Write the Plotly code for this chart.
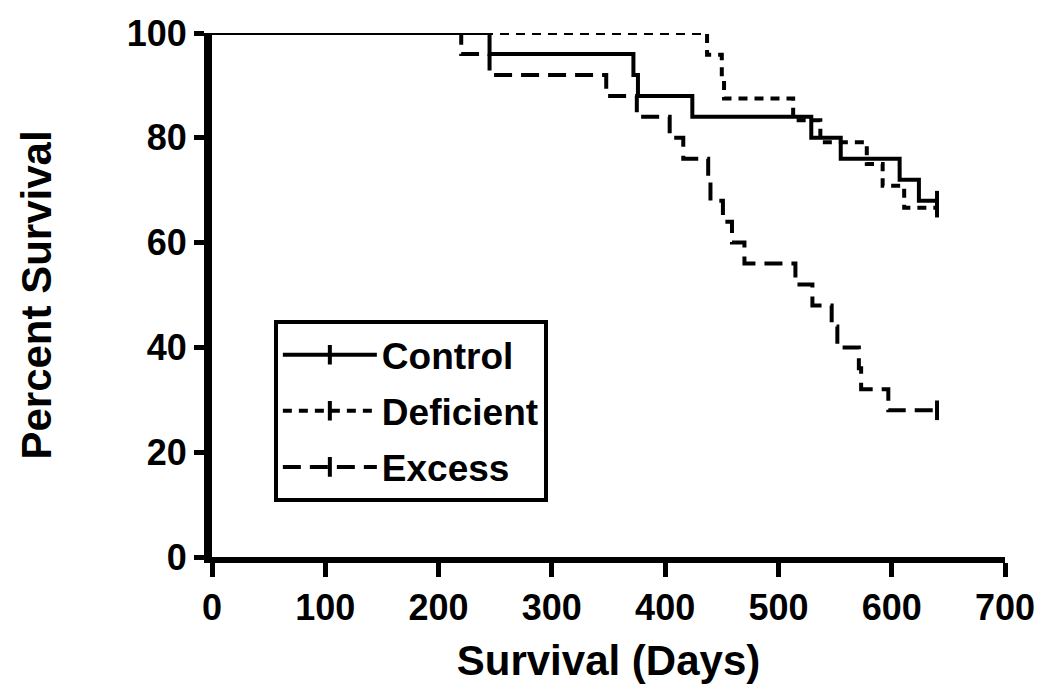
import plotly.graph_objects as go

# Kaplan-Meier step data (days, percent survival)
control_days = [0, 245, 372, 376, 424, 529, 555, 607, 624, 640]
control_pct = [100, 96, 92, 88, 84, 80, 76, 72, 68, 68]

deficient_days = [0, 437, 450, 452, 513, 537, 578, 592, 611, 640]
deficient_pct = [100, 95.83, 91.67, 87.5, 83.33, 79.17, 75, 70.83, 66.67, 66.67]

excess_days = [0, 220, 245, 348, 375, 404, 416, 438, 440, 451, 459, 470, 515, 530, 547, 552, 571, 573, 597, 640]
excess_pct = [100, 96, 92, 88, 84, 80, 76, 72, 68, 64, 60, 56, 52, 48, 44, 40, 36, 32, 28, 28]

series_names = ["Control", "Deficient", "Excess"]
x_ticks = [0, 100, 200, 300, 400, 500, 600, 700]
y_ticks = [0, 20, 40, 60, 80, 100]

series = [
    (series_names[0], control_days, control_pct, "solid"),
    (series_names[1], deficient_days, deficient_pct, "9px,7px"),
    (series_names[2], excess_days, excess_pct, "18px,9px"),
]

FONT = "Liberation Sans, Arial, sans-serif"

fig = go.Figure()
for i, (name, xs, ys, dash) in enumerate(series):
    fig.add_trace(go.Scatter(
        x=xs, y=ys, mode="lines", line=dict(color="black", width=4, dash=dash, shape="hv"),
        showlegend=False, legendgroup=name, cliponaxis=False, hoverinfo="skip"))
    fig.add_trace(go.Scatter(
        x=[xs[-1]], y=[ys[-1]], mode="lines+markers", name=name, legendgroup=name,
        line=dict(color="black", width=4, dash=dash),
        marker=dict(symbol="line-ns", size=14, color="black", line=dict(color="black", width=4)),
        cliponaxis=False))

fig.update_layout(
    width=1050, height=695,
    margin=dict(l=204, r=53, t=25, b=146),
    paper_bgcolor="white", plot_bgcolor="white",
    font=dict(family=FONT, color="black"),
    legend=dict(
        x=0.078, y=0.452, xanchor="left", yanchor="top",
        bordercolor="black", borderwidth=4, bgcolor="white",
        font=dict(family=FONT, size=37, color="black", weight="bold"),
        itemwidth=94, tracegroupgap=5,
    ),
)
fig.update_xaxes(
    range=[0, 700], tickvals=x_ticks, ticktext=[str(v) for v in x_ticks],
    automargin=False,
    showgrid=False, zeroline=False, showline=True, linecolor="black", linewidth=6,
    ticks="outside", ticklen=14, tickwidth=5, tickcolor="black",
    tickfont=dict(family=FONT, size=36, color="black", weight="bold"),
    title=dict(text="Survival (Days)", font=dict(family=FONT, size=42, color="black", weight="bold"), standoff=20),
)
fig.update_yaxes(
    range=[0, 100], tickvals=y_ticks, ticktext=[str(v) for v in y_ticks],
    automargin=False,
    showgrid=False, zeroline=False, showline=True, linecolor="black", linewidth=8,
    ticks="outside", ticklen=10, tickwidth=5, tickcolor="black",
    tickfont=dict(family=FONT, size=36, color="black", weight="bold"),
    title=dict(text="Percent Survival", font=dict(family=FONT, size=42, color="black", weight="bold"), standoff=65),
)

fig.write_html("out.html")
